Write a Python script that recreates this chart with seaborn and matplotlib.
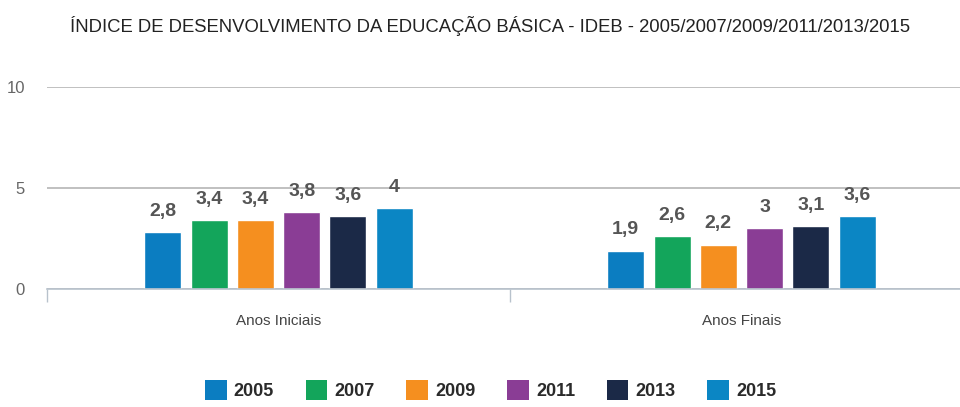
import matplotlib
matplotlib.use("Agg")
import matplotlib.pyplot as plt
from matplotlib import font_manager
from matplotlib.patches import Patch
import seaborn as sns
import pandas as pd

# -----------------------------
# Data
# -----------------------------
stages = ["Anos Iniciais", "Anos Finais"]
years = ["2005", "2007", "2009", "2011", "2013", "2015"]
anos_iniciais = [2.8, 3.4, 3.4, 3.8, 3.6, 4.0]
anos_finais = [1.9, 2.6, 2.2, 3.0, 3.1, 3.6]
colors = ["#0b7dc1", "#13a55b", "#f58f1f", "#8a3d95", "#1b2947", "#0b86c4"]
title = "ÍNDICE DE DESENVOLVIMENTO DA EDUCAÇÃO BÁSICA - IDEB - 2005/2007/2009/2011/2013/2015"

rows = []
for stage, vals in zip(stages, [anos_iniciais, anos_finais]):
    for yr, v in zip(years, vals):
        rows.append({"Etapa": stage, "Ano": yr, "IDEB": v})
df = pd.DataFrame(rows)
palette = dict(zip(years, colors))

sns.set_style("white")
installed = {f.name for f in font_manager.fontManager.ttflist}
narrow = "Liberation Sans Narrow" if "Liberation Sans Narrow" in installed else "Liberation Sans"
plt.rcParams["font.family"] = [narrow, "DejaVu Sans"]

fig = plt.figure(figsize=(9.6, 4.07), dpi=100)
ax = fig.add_axes([47 / 960, 1 - 289 / 407, (973 - 47) / 960, (289 - 87) / 407])

sns.barplot(data=df, x="Etapa", y="IDEB", hue="Ano", palette=palette,
            width=0.6, gap=0.2, saturation=1, ax=ax, legend=False)

for cont in ax.containers:
    labels = [f"{b.get_height():g}".replace(".", ",") for b in cont]
    ax.bar_label(cont, labels=labels, padding=9, fontsize=14, fontweight="bold",
                 color="#555555", clip_on=False)

ax.set_ylim(0, 10)
ax.set_xlim(-0.5, 1.5)
ax.set_yticks([0, 5, 10])
ax.yaxis.grid(True, color="#b5b5b5", linewidth=1.2)
ax.set_axisbelow(True)
for s in ["top", "right", "left"]:
    ax.spines[s].set_visible(False)
ax.spines["bottom"].set_color("#b8c2cc")
ax.spines["bottom"].set_linewidth(1.2)

ax.tick_params(axis="y", length=0, pad=16, labelsize=12, labelcolor="#666666")
ax.tick_params(axis="x", which="major", length=0, pad=18, labelsize=11, labelcolor="#444444")
ax.set_xticks([-0.5, 0.5], minor=True)
ax.tick_params(axis="x", which="minor", bottom=True, length=9, width=1, color="#b8c2cc")
ax.set_xlabel("")
ax.set_ylabel("")

fig.text(0.51, 0.935, title, ha="center", va="center", fontsize=13.3, color="#222222")

handles = [Patch(facecolor=c, edgecolor="none") for c in colors]
fig.legend(handles, years, loc="center", bbox_to_anchor=(0.511, 0.042), ncol=6,
           frameon=False, handlelength=1.2, handleheight=1.3, handletextpad=0.4,
           columnspacing=1.75, prop={"weight": "bold", "size": 13})
for t in fig.legends[0].get_texts():
    t.set_color("#2a2a2a")

fig.savefig("out.png", dpi=100)
